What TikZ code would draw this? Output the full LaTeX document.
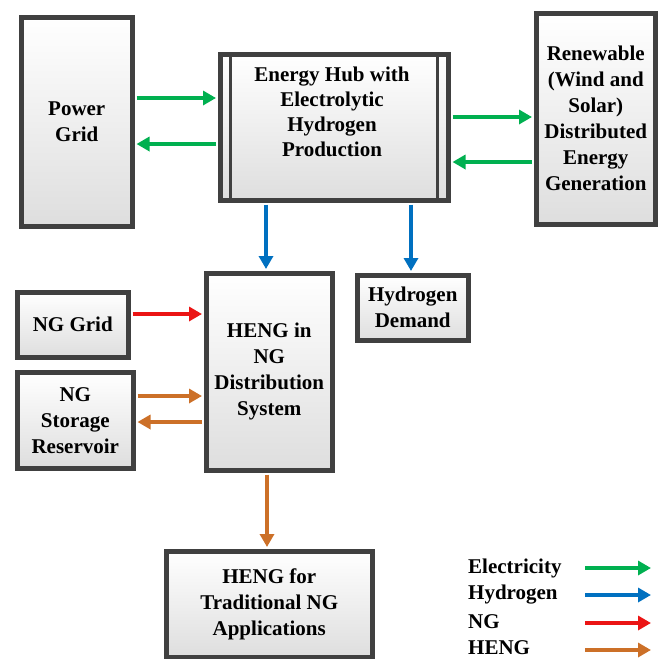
\documentclass[tikz,border=0pt]{standalone}
\usepackage{fontspec}
\setmainfont{Liberation Serif}
\usetikzlibrary{arrows.meta,shadows}
\definecolor{celec}{RGB}{0,176,80}
\definecolor{chyd}{RGB}{0,112,192}
\definecolor{cng}{RGB}{235,20,20}
\definecolor{cheng}{RGB}{204,112,40}
\definecolor{cborder}{RGB}{64,64,64}
\tikzset{
  box/.style={draw=cborder, line width=4.5pt, top color=white, bottom color=black!13,
    anchor=north west, inner sep=0pt, align=center,
    font=\fontsize{21}{26}\selectfont\bfseries,
    drop shadow={opacity=0.25, shadow xshift=2pt, shadow yshift=-2pt}},
  txt/.style={align=center, inner sep=0pt, font=\fontsize{21}{25}\selectfont\bfseries},
  flow/.style={line width=3.5pt},
  elec/.style={flow, draw=celec, -{Triangle[length=13pt,width=14pt,fill=celec]}},
  hyd/.style={flow, draw=chyd, -{Triangle[length=13pt,width=14pt,fill=chyd]}},
  ngf/.style={flow, draw=cng, -{Triangle[length=13pt,width=14pt,fill=cng]}},
  hengf/.style={flow, draw=cheng, -{Triangle[length=13pt,width=14pt,fill=cheng]}},
  legtxt/.style={anchor=west, inner sep=0pt, font=\fontsize{21}{26}\selectfont\bfseries},
  inner/.style={draw=cborder, line width=3pt}
}
\begin{document}
\begin{tikzpicture}[x=1pt,y=-1pt]
\useasboundingbox (0,0) rectangle (662,659);
% boxes
\node[box, minimum width=111pt, minimum height=209pt] (pg) at (19,15) {Power\\Grid};
\node[box, minimum width=228pt, minimum height=146pt] (hub) at (218,52) {};
\node[txt] (hubtext) at (332,112) {Energy Hub with\\Electrolytic\\Hydrogen\\Production};
\draw[inner] ([xshift=12pt]hub.north west) -- ([xshift=12pt]hub.south west);
\draw[inner] ([xshift=-13pt]hub.north east) -- ([xshift=-13pt]hub.south east);
\node[box, minimum width=119pt, minimum height=211pt] (ren) at (534,11) {Renewable\\(Wind and\\Solar)\\Distributed\\Energy\\Generation};
\node[box, minimum width=126pt, minimum height=197pt] (heng) at (204,271) {HENG in\\NG\\Distribution\\System};
\node[box, minimum width=111pt, minimum height=65pt] (ngg) at (15,290) {NG Grid};
\node[box, minimum width=116pt, minimum height=96pt] (ngs) at (15,370) {NG\\Storage\\Reservoir};
\node[box, minimum width=111pt, minimum height=65pt] (hd) at (355,273) {Hydrogen\\Demand};
\node[box, minimum width=206pt, minimum height=106pt] (app) at (164,549) {HENG for\\Traditional NG\\Applications};
% helper coordinates
\coordinate (y1) at (0,98);
\coordinate (y2) at (0,144);
\coordinate (y3) at (0,117);
\coordinate (y4) at (0,162);
\coordinate (x1) at (266,0);
\coordinate (x2) at (411,0);
\coordinate (y5) at (0,314);
\coordinate (y6) at (0,396);
\coordinate (y7) at (0,422);
\coordinate (x3) at (267,0);
% connectors
\draw[elec] ([xshift=2pt]pg.east |- y1) -- ([xshift=-2pt]hub.west |- y1);
\draw[elec] ([xshift=-2pt]hub.west |- y2) -- ([xshift=2pt]pg.east |- y2);
\draw[elec] ([xshift=2pt]hub.east |- y3) -- ([xshift=-2pt]ren.west |- y3);
\draw[elec] ([xshift=-2pt]ren.west |- y4) -- ([xshift=2pt]hub.east |- y4);
\draw[hyd] ([yshift=-2pt]hub.south -| x1) -- ([yshift=2pt]heng.north -| x1);
\draw[hyd] ([yshift=-2pt]hub.south -| x2) -- ([yshift=2pt]hd.north -| x2);
\draw[ngf] ([xshift=2pt]ngg.east |- y5) -- ([xshift=-2pt]heng.west |- y5);
\draw[hengf] ([xshift=2pt]ngs.east |- y6) -- ([xshift=-2pt]heng.west |- y6);
\draw[hengf] ([xshift=-2pt]heng.west |- y7) -- ([xshift=2pt]ngs.east |- y7);
\draw[hengf] ([yshift=-2pt]heng.south -| x3) -- ([yshift=2pt]app.north -| x3);
% legend
\node[legtxt] (le) at (468,568) {Electricity};
\node[legtxt] (lh) at (468,595) {Hydrogen};
\node[legtxt] (ln) at (468,622) {NG};
\node[legtxt] (lg) at (468,648) {HENG};
\coordinate (ae1) at (585,568); \coordinate (ae2) at (651,568);
\coordinate (ah1) at (585,595); \coordinate (ah2) at (651,595);
\coordinate (an1) at (585,623); \coordinate (an2) at (651,623);
\coordinate (ag1) at (585,650); \coordinate (ag2) at (651,650);
\draw[elec] (ae1) -- (ae2);
\draw[hyd] (ah1) -- (ah2);
\draw[ngf] (an1) -- (an2);
\draw[hengf] (ag1) -- (ag2);
\end{tikzpicture}
\end{document}
